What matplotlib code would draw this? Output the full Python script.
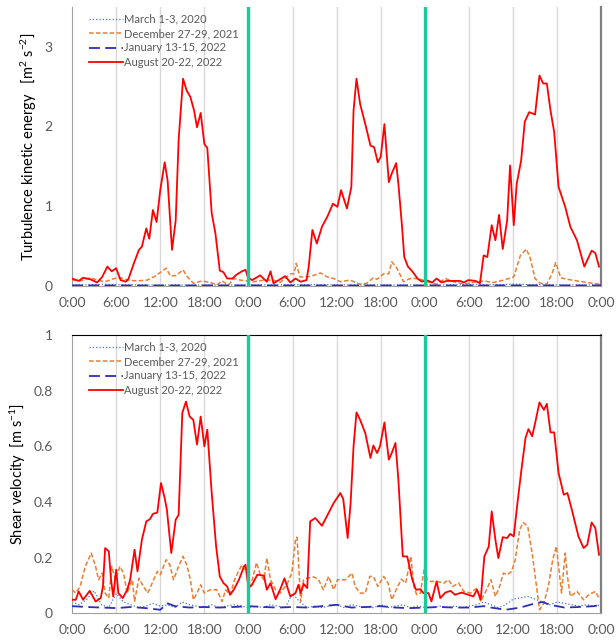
import matplotlib
matplotlib.use("Agg")
import matplotlib.pyplot as plt

plt.rcParams['font.family'] = ['Lato', 'DejaVu Sans']
plt.rcParams['mathtext.default'] = 'regular'

# hours since start (0..72) and values
tke_aug_h = [0, 0.9, 1.5, 2.5, 3.4, 4.1, 4.8, 5.4, 6.0, 6.6, 7.3, 7.7, 8.4, 9.1, 9.5, 10.1, 10.5, 11.0, 11.5, 12.0,
             12.6, 13.0, 13.6, 14.1, 14.5, 15.1, 15.6, 16.1, 16.6, 17.0, 17.5, 18.0, 18.4, 19.0, 19.5, 20.1, 20.6,
             21.1, 21.8, 22.4, 23.1, 23.6, 23.9, 24.5, 25.6, 26.5, 27.0, 27.4, 28.3, 29.0, 29.7, 30.4, 31.1, 31.9,
             32.2, 32.7, 33.3, 34.0, 34.7, 35.5, 36.1, 36.6, 37.4, 38.0, 38.3, 38.7, 39.2, 39.9, 40.6, 41.1, 41.6,
             42.0, 42.5, 43.1, 43.5, 44.1, 44.4, 44.9, 45.2, 45.7, 46.3, 47.0, 47.6, 48.2, 49.0, 49.6, 50.3, 51.0,
             52.8, 53.3, 53.9, 54.9, 55.5, 56.0, 56.5, 57.1, 57.6, 58.1, 58.6, 59.2, 59.6, 60.1, 60.5, 61.1, 61.6,
             62.2, 63.0, 63.6, 64.1, 64.6, 65.1, 65.6, 66.2, 67.1, 67.8, 68.7, 69.7, 70.7, 71.2, 71.7]
tke_aug = [0.09, 0.06, 0.10, 0.08, 0.04, 0.11, 0.24, 0.18, 0.22, 0.07, 0.05, 0.09, 0.28, 0.45, 0.49, 0.72, 0.59, 0.95,
           0.80, 1.20, 1.55, 1.32, 0.45, 0.82, 1.83, 2.60, 2.45, 2.37, 2.20, 1.99, 2.17, 1.78, 1.73, 0.91, 0.66, 0.19,
           0.17, 0.09, 0.09, 0.14, 0.18, 0.20, 0.11, 0.07, 0.13, 0.05, 0.18, 0.03, 0.08, 0.12, 0.04, 0.09, 0.05, 0.07,
           0.24, 0.70, 0.53, 0.74, 0.86, 1.03, 0.99, 1.20, 0.97, 1.24, 2.20, 2.60, 2.28, 2.03, 1.76, 1.74, 1.55,
           1.62, 2.03, 1.30, 1.41, 1.54, 1.28, 0.74, 0.36, 0.24, 0.18, 0.09, 0.05, 0.07, 0.04, 0.09, 0.04, 0.06,
           0.06, 0.04, 0.07, 0.06, 0.03, 0.38, 0.36, 0.76, 0.57, 0.89, 0.46, 0.82, 1.51, 0.76, 1.28, 1.57, 2.06,
           2.18, 2.15, 2.64, 2.54, 2.54, 2.20, 1.93, 1.24, 0.99, 0.74, 0.57, 0.24, 0.44, 0.41, 0.24]

tke_dec_h = [0, 1.1, 2.5, 3.4, 4.5, 5.7, 6.6, 7.5, 8.8, 10.2, 11.3, 12.2, 12.8, 13.4, 14.2, 15.1, 15.6, 16.5, 17.7,
             18.8, 19.7, 20.4, 21.3, 22.0, 22.9, 23.8, 24.7, 26.1, 27.4, 28.3, 29.7, 30.2, 30.5, 31.0, 32.0, 32.9,
             33.8, 34.7, 35.6, 36.5, 37.8, 39.2, 40.1, 41.0, 41.5, 42.4, 43.1, 43.5, 44.2, 45.1, 46.0, 47.2, 48.3,
             49.6, 50.8, 51.9, 53.3, 54.6, 56.0, 57.3, 58.7, 60.1, 61.0, 61.8, 62.3, 63.0, 63.7, 64.6, 65.3, 65.8,
             66.5, 67.4, 68.7, 70.1, 71.7]
tke_dec = [0.07, 0.06, 0.10, 0.07, 0.05, 0.09, 0.10, 0.07, 0.06, 0.07, 0.12, 0.18, 0.22, 0.12, 0.13, 0.20, 0.12, 0.03,
           0.06, 0.04, 0.01, 0.06, 0.01, 0.09, 0.07, 0.06, 0.05, 0.07, 0.07, 0.04, 0.15, 0.15, 0.28, 0.11, 0.11, 0.13,
           0.16, 0.11, 0.09, 0.05, 0.07, 0.02, 0.03, 0.10, 0.08, 0.15, 0.15, 0.30, 0.22, 0.05, 0.09, 0.09, 0.05,
           0.02, 0.09, 0.05, 0.02, 0.04, 0.06, 0.04, 0.07, 0.11, 0.38, 0.46, 0.36, 0.09, 0.03, 0.02, 0.15, 0.29,
           0.10, 0.08, 0.06, 0.04, 0.02]

tke_mar_h = [0, 3, 4.5, 6, 12, 24, 30, 36, 48, 58, 60, 62, 66, 72]
tke_mar = [0.010, 0.012, 0.020, 0.012, 0.008, 0.008, 0.012, 0.010, 0.008, 0.012, 0.020, 0.015, 0.010, 0.008]
tke_jan_h = [0, 12, 24, 36, 48, 60, 72]
tke_jan = [0.004, 0.003, 0.004, 0.003, 0.003, 0.004, 0.003]

ust_aug_h = [0, 0.5, 0.9, 1.5, 2.4, 3.2, 3.9, 4.2, 4.5, 5.0, 5.3, 5.6, 6.0, 6.3, 6.9, 7.5, 7.9, 8.5, 8.9, 9.5, 10.1,
             10.6, 11.0, 11.6, 12.1, 12.6, 12.9, 13.5, 14.1, 14.5, 15.0, 15.5, 16.0, 16.5, 17.0, 17.5, 18.0, 18.4,
             19.0, 19.6, 20.1, 20.6, 21.1, 21.5, 22.0, 22.7, 23.4, 23.6, 24.0, 24.5, 25.2, 26.1, 26.5, 27.0, 27.7,
             28.3, 28.9, 29.7, 30.4, 30.8, 31.1, 31.5, 32.0, 32.4, 33.1, 34.0, 34.9, 35.6, 36.5, 36.9, 37.5, 37.9,
             38.3, 38.7, 39.2, 39.9, 40.6, 41.0, 41.5, 41.9, 42.5, 43.1, 43.5, 44.0, 44.4, 45.0, 45.6, 46.3, 46.8,
             47.4, 47.8, 48.5, 48.9, 49.6, 50.1, 50.8, 51.5, 52.1, 53.0, 53.9, 54.6, 55.1, 55.6, 56.1, 56.7, 57.1,
             57.6, 58.0, 58.6, 59.2, 59.6, 60.1, 60.6, 61.2, 61.7, 62.1, 62.6, 63.0, 63.6, 64.2, 64.6, 65.1, 65.6,
             66.2, 66.9, 67.4, 68.0, 68.9, 69.6, 70.1, 70.7, 71.2, 71.7]
ust_aug = [0.048, 0.048, 0.078, 0.048, 0.080, 0.042, 0.054, 0.096, 0.234, 0.222, 0.120, 0.060, 0.156, 0.072, 0.054,
           0.084, 0.120, 0.228, 0.150, 0.264, 0.330, 0.338, 0.357, 0.362, 0.468, 0.414, 0.372, 0.216, 0.336, 0.354,
           0.720, 0.761, 0.707, 0.695, 0.606, 0.707, 0.600, 0.660, 0.432, 0.240, 0.132, 0.108, 0.096, 0.066, 0.084,
           0.120, 0.168, 0.174, 0.090, 0.102, 0.138, 0.135, 0.084, 0.108, 0.050, 0.084, 0.125, 0.060, 0.072, 0.102,
           0.072, 0.105, 0.090, 0.330, 0.342, 0.314, 0.360, 0.396, 0.432, 0.410, 0.270, 0.396, 0.600, 0.722, 0.695,
           0.647, 0.558, 0.603, 0.576, 0.600, 0.686, 0.552, 0.576, 0.612, 0.480, 0.204, 0.204, 0.120, 0.084, 0.086,
           0.072, 0.072, 0.042, 0.114, 0.054, 0.074, 0.080, 0.066, 0.074, 0.066, 0.060, 0.084, 0.048, 0.204, 0.240,
           0.366, 0.264, 0.198, 0.273, 0.270, 0.285, 0.276, 0.396, 0.528, 0.630, 0.662, 0.636, 0.683, 0.758, 0.731,
           0.753, 0.650, 0.650, 0.504, 0.426, 0.432, 0.372, 0.276, 0.234, 0.246, 0.326, 0.306, 0.210]

ust_dec_h = [0, 0.5, 1.1, 1.8, 2.6, 3.2, 3.6, 4.1, 4.5, 5.0, 5.4, 5.9, 6.5, 7.0, 7.5, 8.2, 8.5, 9.1, 9.7, 10.3, 10.9,
             11.6, 12.0, 12.8, 13.3, 13.8, 14.5, 15.1, 15.6, 16.1, 16.5, 17.0, 17.5, 18.0, 18.8, 19.7, 20.4, 20.9,
             21.5, 22.2, 23.1, 23.8, 24.3, 25.1, 25.6, 26.1, 26.5, 27.0, 27.7, 28.3, 29.2, 29.9, 30.4, 30.6, 30.8,
             31.1, 31.5, 32.0, 32.9, 33.5, 34.2, 34.9, 35.6, 36.1, 37.2, 38.1, 38.5, 39.2, 39.9, 40.5, 41.0, 41.6,
             42.4, 43.0, 43.5, 44.1, 44.8, 45.4, 46.1, 46.5, 46.9, 47.4, 48.0, 48.3, 48.8, 49.6, 50.6, 51.2, 51.8,
             52.6, 53.3, 54.2, 55.1, 55.6, 56.4, 57.0, 57.6, 58.1, 58.7, 59.2, 59.8, 60.3, 60.9, 61.4, 62.0, 62.6,
             63.2, 63.6, 64.2, 64.8, 65.4, 65.9, 66.3, 66.6, 67.1, 67.4, 67.8, 68.7, 69.6, 70.3, 71.2, 71.7]
ust_dec = [0.084, 0.072, 0.096, 0.168, 0.216, 0.168, 0.120, 0.144, 0.072, 0.054, 0.168, 0.120, 0.168, 0.144, 0.072,
           0.120, 0.042, 0.126, 0.096, 0.072, 0.108, 0.150, 0.138, 0.192, 0.174, 0.120, 0.168, 0.204, 0.174, 0.120,
           0.048, 0.072, 0.102, 0.072, 0.084, 0.084, 0.042, 0.084, 0.066, 0.126, 0.174, 0.144, 0.096, 0.182, 0.138,
           0.120, 0.198, 0.120, 0.084, 0.072, 0.102, 0.144, 0.264, 0.273, 0.192, 0.042, 0.120, 0.126, 0.130, 0.122,
           0.084, 0.132, 0.084, 0.120, 0.120, 0.144, 0.096, 0.072, 0.072, 0.132, 0.132, 0.096, 0.132, 0.108, 0.048,
           0.084, 0.122, 0.108, 0.204, 0.096, 0.066, 0.072, 0.174, 0.120, 0.114, 0.114, 0.108, 0.120, 0.096, 0.108,
           0.078, 0.072, 0.090, 0.042, 0.084, 0.120, 0.060, 0.090, 0.144, 0.138, 0.150, 0.192, 0.300, 0.326, 0.312,
           0.216, 0.096, 0.012, 0.036, 0.096, 0.192, 0.240, 0.144, 0.072, 0.216, 0.132, 0.060, 0.078, 0.048, 0.066,
           0.078, 0.054]

ust_mar_h = list(range(0, 73))
ust_mar = [0.04, 0.03, 0.05, 0.08, 0.03, 0.02, 0.07, 0.04, 0.03, 0.02, 0.025, 0.035, 0.025, 0.03, 0.02, 0.04, 0.03,
           0.025, 0.02, 0.03, 0.02, 0.025, 0.03, 0.025, 0.02, 0.025, 0.02, 0.03, 0.025, 0.02, 0.07, 0.04, 0.02,
           0.025, 0.02, 0.025, 0.03, 0.02, 0.03, 0.025, 0.02, 0.02, 0.03, 0.02, 0.025, 0.03, 0.02, 0.025, 0.02,
           0.02, 0.025, 0.02, 0.025, 0.02, 0.025, 0.03, 0.04, 0.03, 0.02, 0.03, 0.05, 0.055, 0.06, 0.05, 0.04,
           0.03, 0.04, 0.035, 0.03, 0.025, 0.03, 0.025, 0.03]
ust_jan_h = [0, 2, 4, 6, 8, 10, 12, 13, 14, 16, 18, 20, 22, 24, 26, 28, 30, 32, 34, 36, 38, 40, 42, 44, 46, 48, 50,
             52, 54, 56, 57, 59, 61, 63, 64, 65, 67, 69, 71, 72]
ust_jan = [0.025, 0.022, 0.02, 0.018, 0.022, 0.018, 0.012, 0.035, 0.025, 0.02, 0.022, 0.02, 0.022, 0.025, 0.022,
           0.02, 0.022, 0.02, 0.025, 0.03, 0.02, 0.022, 0.025, 0.02, 0.018, 0.02, 0.022, 0.02, 0.02, 0.025, 0.02,
           0.012, 0.02, 0.035, 0.04, 0.03, 0.02, 0.022, 0.025, 0.03]

labels = ['March 1-3, 2020', 'December 27-29, 2021', 'January 13-15, 2022', 'August 20-22, 2022']
xtick_labels = ['0:00', '6:00', '12:00', '18:00'] * 3 + ['0:00']

fig = plt.figure(figsize=(6.16, 6.42), dpi=100)
ax1 = fig.add_axes([0.117, 0.555, 0.859, 0.434])
ax2 = fig.add_axes([0.117, 0.045, 0.859, 0.433])


def style(ax, ymax, yticks, ylabel, top_spine):
    ax.set_xlim(0, 72)
    ax.set_ylim(0, ymax)
    ax.set_xticks(range(0, 73, 6))
    ax.set_xticklabels(xtick_labels)
    ax.set_yticks(yticks)
    ax.tick_params(length=0, labelsize=10, labelcolor='#595959', pad=8)
    ax.tick_params(axis='y', pad=14)
    for h in range(6, 72, 6):
        if h % 24:
            ax.axvline(h, color='#d9d9d9', lw=1, zorder=0)
    for h in (24, 48):
        ax.axvline(h, color='#1dc99b', lw=2.4, zorder=5)
    ax.spines['left'].set_color('#a0a0a0')
    ax.spines['bottom'].set_color('#a0a0a0')
    ax.spines['right'].set_color('#7f7f7f')
    ax.spines['right'].set_linewidth(1.6)
    if top_spine:
        ax.spines['top'].set_color('black')
        ax.spines['top'].set_linewidth(0.8)
    else:
        ax.spines['top'].set_visible(False)
    ax.set_ylabel(ylabel, fontsize=10.5)


def draw(ax, mar, dec, jan, aug):
    ax.plot(*mar, color='#4472c4', ls=':', lw=0.9, label=labels[0], zorder=2)
    ax.plot(*dec, color='#ed7d31', ls=(0, (3, 1.5)), lw=1.1, label=labels[1], zorder=3)
    ax.plot(*jan, color='#2f2fb0', ls=(0, (6, 3)), lw=1.3, label=labels[2], zorder=3)
    ax.plot(*aug, color='#ff0000', lw=1.3, label=labels[3], zorder=4)
    leg = ax.legend(loc='upper left', frameon=False, fontsize=8, handlelength=3.0, handletextpad=0.1,
                    labelspacing=0.3, borderaxespad=0.2, bbox_to_anchor=(0.02, 1.0))
    for t in leg.get_texts():
        t.set_color('#595959')


draw(ax1, (tke_mar_h, tke_mar), (tke_dec_h, tke_dec), (tke_jan_h, tke_jan), (tke_aug_h, tke_aug))
style(ax1, 3.5, [0, 1, 2, 3], 'Turbulence kinetic energy   [m$^2$ s$^{-2}$]', False)

draw(ax2, (ust_mar_h, ust_mar), (ust_dec_h, ust_dec), (ust_jan_h, ust_jan), (ust_aug_h, ust_aug))
style(ax2, 1.0, [0, 0.2, 0.4, 0.6, 0.8, 1], 'Shear velocity  [m s$^{-1}$]', True)
ax2.set_yticklabels(['0', '0.2', '0.4', '0.6', '0.8', '1'])

fig.savefig('out.png', dpi=100)
